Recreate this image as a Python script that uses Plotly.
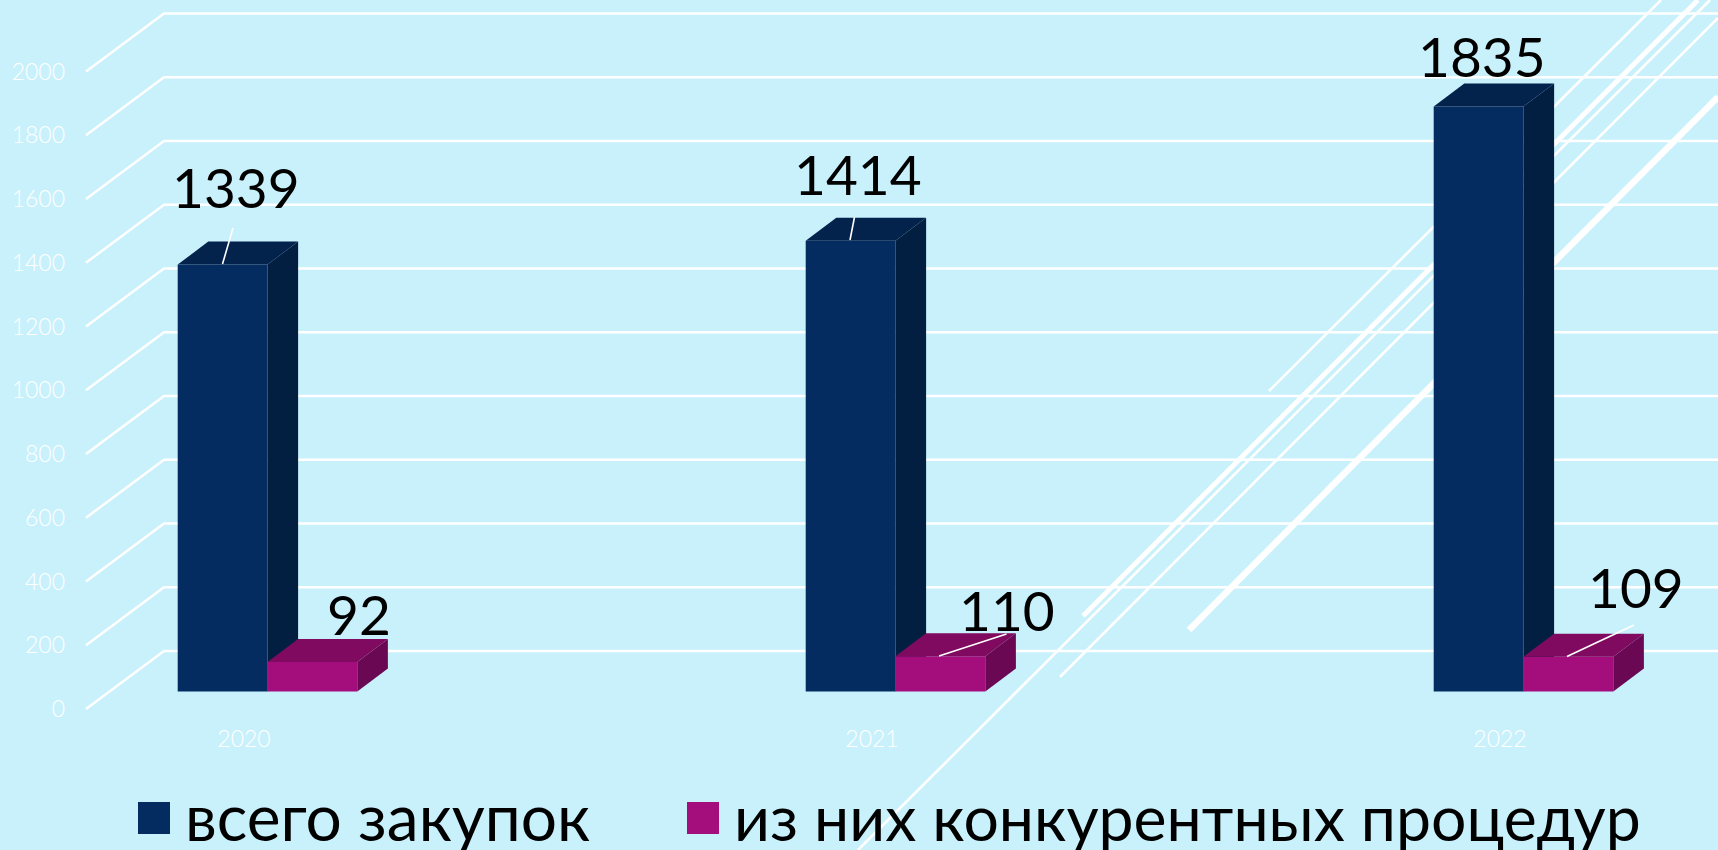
import plotly.graph_objects as go

# ---- data ----
YEARS = ["2020", "2021", "2022"]
TOTAL = [1339, 1414, 1835]
COMPETITIVE = [92, 110, 109]
VALUE_TICKS = list(range(0, 2001, 200))
SERIES_NAMES = ["всего закупок", "из них конкурентных процедур"]

# ---- styles / layout constants ----
W, H = 1718, 850
M_L, M_B = 80, 130
BG = "#C9F1FC"
BLUE = ("#042C60", "#03234D", "#021F41")
PURPLE = ("#A30D7C", "#7F0A60", "#6A0853")
FONT = "Lato, sans-serif"
FONT_THIN = "Lato Light, Lato, sans-serif"
PX_PER_UNIT = 63.75 / 200
CAT_PX = 628
BAR_W = 89.8 / CAT_PX
BAR_DX, BAR_DV = 30.6 / CAT_PX, 23 / PX_PER_UNIT
FLOOR_DX, FLOOR_DV = 78 / CAT_PX, 58 / PX_PER_UNIT
PLOT_B = H - M_B


def x_range(zero_px):
    return [(M_L - zero_px) / CAT_PX, (W - zero_px) / CAT_PX]


def y_range(zero_px):
    return [(zero_px - PLOT_B) / PX_PER_UNIT, zero_px / PX_PER_UNIT]


def px(x, y):
    return (x - M_L) / (W - M_L), 1 - y / (H - M_B)


cats = list(range(len(YEARS)))
fig = go.Figure()

# gridlines of the wall and the left side of the floor
gx, gy = [], []
xl = x_range(244)[0]
for t in VALUE_TICKS:
    gx += [xl + 6 / CAT_PX, xl + 6 / CAT_PX + FLOOR_DX, x_range(244)[1], None]
    gy += [t, t + FLOOR_DV, t + FLOOR_DV, None]
fig.add_trace(go.Scatter(x=gx, y=gy, mode="lines", line=dict(color="white", width=2.4),
                         showlegend=False, hoverinfo="skip"))


def add_series(values, name, colors, side, ax, legend):
    xa, ya = "x" + ax, "y" + ax
    fig.add_trace(go.Bar(x=cats, y=values, name=name, xaxis=xa, yaxis=ya, width=BAR_W,
                         offset=-BAR_W if side < 0 else 0, marker=dict(color=colors[0], line_width=0),
                         showlegend=True, legend=legend))
    for c, v in zip(cats, values):
        x0 = c - BAR_W if side < 0 else c
        x1 = x0 + BAR_W
        fig.add_trace(go.Scatter(
            x=[x0, x1, x1 + BAR_DX, x0 + BAR_DX, x0], y=[v, v, v + BAR_DV, v + BAR_DV, v],
            mode="lines", fill="toself", fillcolor=colors[1], line_width=0,
            xaxis=xa, yaxis=ya, showlegend=False, hoverinfo="skip"))
        fig.add_trace(go.Scatter(
            x=[x1, x1 + BAR_DX, x1 + BAR_DX, x1, x1], y=[0, BAR_DV, v + BAR_DV, v, 0],
            mode="lines", fill="toself", fillcolor=colors[2], line_width=0,
            xaxis=xa, yaxis=ya, showlegend=False, hoverinfo="skip"))


add_series(TOTAL, SERIES_NAMES[0], BLUE, -1, "2", "legend")
add_series(COMPETITIVE, SERIES_NAMES[1], PURPLE, 1, "3", "legend2")

# data labels: offsets (px) from the top-centre of each series' bars
LABEL_FONT = dict(family=FONT, size=55, color="black")
TOTAL_SHIFT = [(13, 78), (7, 67), (3, 50)]
COMP_SHIFT = [(47, 48), (67, 46), (68, 70)]
annotations = []
for c, v, (dx, dy) in zip(cats, TOTAL, TOTAL_SHIFT):
    annotations.append(dict(x=c - BAR_W / 2, y=v, xref="x2", yref="y2", text=str(v), showarrow=False,
                            xshift=dx, yshift=dy, font=LABEL_FONT, xanchor="center", yanchor="middle"))
for c, v, (dx, dy) in zip(cats, COMPETITIVE, COMP_SHIFT):
    annotations.append(dict(x=c + BAR_W / 2, y=v, xref="x3", yref="y3", text=str(v), showarrow=False,
                            xshift=dx, yshift=dy, font=LABEL_FONT, xanchor="center", yanchor="middle"))

# decoration and leaders, in picture pixels
shapes = []
DECOR = [((1269, 391), (1661, 0), 2.6), ((1083, 616), (1698, 0), 5), ((1060, 677), (1718, 18), 2.6),
         ((858, 850), (1710, 0), 2.6), ((1189, 630), (1718, 97), 6.5)]
for (a, b, w) in DECOR:
    p, q = px(*a), px(*b)
    shapes.append(dict(type="line", xref="paper", yref="paper", x0=p[0], y0=p[1], x1=q[0], y1=q[1],
                       line=dict(color="white", width=w), layer="below"))
LEADERS = [((233, 228), (222.5, 264)), ((854.5, 217), (850, 240)), ((1006.5, 634), (939, 656)),
           ((1634, 625), (1567, 656.5))]
for a, b in LEADERS:
    p, q = px(*a), px(*b)
    shapes.append(dict(type="line", xref="paper", yref="paper", x0=p[0], y0=p[1], x1=q[0], y1=q[1],
                       line=dict(color="white", width=1.6), layer="above"))
for (x0, x1), col in zip([(138, 170), (687, 719)], [BLUE[0], PURPLE[0]]):
    p, q = px(x0, 802), px(x1, 834)
    shapes.append(dict(type="rect", xref="paper", yref="paper", x0=p[0], y0=p[1], x1=q[0], y1=q[1],
                       fillcolor=col, line_width=0, layer="above"))

hidden = dict(visible=False, fixedrange=True)
legend_style = dict(orientation="h", xanchor="left", yanchor="top",
                    bgcolor="rgba(0,0,0,0)", itemwidth=37, itemclick=False, itemdoubleclick=False)
fig.update_layout(
    width=W, height=H, paper_bgcolor=BG, plot_bgcolor="rgba(0,0,0,0)",
    margin=dict(l=M_L, r=0, t=0, b=M_B, pad=0, autoexpand=False),
    barmode="overlay", font=dict(family=FONT),
    xaxis=dict(range=x_range(244), tickmode="array", tickvals=cats, ticktext=YEARS, showgrid=False,
               zeroline=False, showline=False, ticks="", tickfont=dict(size=23, color="white", family=FONT_THIN),
               ticklabelstandoff=3),
    yaxis=dict(range=y_range(709), tickmode="array", tickvals=VALUE_TICKS, showgrid=False, zeroline=False,
               showline=False, ticks="", tickfont=dict(size=23, color="white", family=FONT_THIN),
               ticklabelstandoff=14),
    xaxis2=dict(overlaying="x", range=x_range(267.5), **hidden),
    yaxis2=dict(overlaying="y", range=y_range(691.4), **hidden),
    xaxis3=dict(overlaying="x", range=x_range(267.5), **hidden),
    yaxis3=dict(overlaying="y", range=y_range(691.4), **hidden),
    legend=dict(x=px(138, 0)[0], y=px(0, 768)[1], font=dict(size=64, color="black", family=FONT), **legend_style),
    legend2=dict(x=px(687, 0)[0], y=px(0, 769)[1], font=dict(size=62.5, color="black", family=FONT), **legend_style),
    shapes=shapes, annotations=annotations,
)

fig.write_html("out.html", config={"displayModeBar": False},
               post_script="document.body.style.margin='0';document.body.style.overflow='hidden';")
